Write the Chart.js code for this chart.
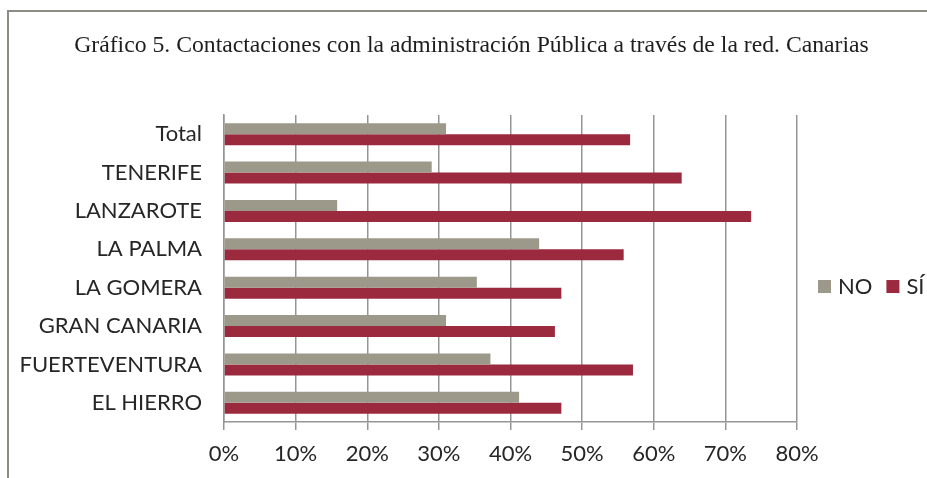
<!DOCTYPE html>
<html>
<head>
<meta charset="utf-8">
<script src="https://cdn.jsdelivr.net/npm/chart.js@4"></script>
<style>
  html, body { margin: 0; padding: 0; background: #fff; }
  #wrap { position: relative; width: 927px; height: 478px; }
  #frame { position: absolute; left: 7px; top: 10px; right: -20px; bottom: -20px;
           border-top: 2px solid #8b8d84; border-left: 2px solid #8b8d84; pointer-events: none; }
</style>
</head>
<body>
<div id="wrap">
  <canvas id="chart" width="927" height="478"></canvas>
  <div id="frame"></div>
</div>
<script>
const titleText = "Gráfico 5. Contactaciones con la administración Pública a través de la red. Canarias";
const islands = ["Total", "TENERIFE", "LANZAROTE", "LA PALMA", "LA GOMERA", "GRAN CANARIA", "FUERTEVENTURA", "EL HIERRO"];
const seriesNames = ["NO", "SÍ"];
const noValues = [31.0, 29.0, 15.8, 44.0, 35.3, 31.0, 37.2, 41.2];
const siValues = [56.7, 63.9, 73.6, 55.8, 47.1, 46.2, 57.1, 47.1];
const seriesColors = ["#9c998a", "#9b2a3f"];

const gridColor = "#959595";
const labelFont = { family: "Lato", size: 22 };

// legend drawn in one row to the right of the plot
const rowLegend = {
  id: "rowLegend",
  afterDraw(chart) {
    const ctx = chart.ctx;
    const area = chart.chartArea;
    const y = (area.top + chart.scales.x.bottom) / 2 - 10;
    let x = area.right + 21;
    ctx.save();
    ctx.font = "22px Lato";
    ctx.textBaseline = "middle";
    chart.data.datasets.forEach(ds => {
      ctx.fillStyle = ds.backgroundColor;
      ctx.fillRect(x, y - 6.5, 13, 13);
      x += 20;
      ctx.fillStyle = "#262626";
      ctx.fillText(ds.label, x, y);
      x += ctx.measureText(ds.label).width + 14;
    });
    ctx.restore();
  }
};

new Chart(document.getElementById("chart"), {
  type: "bar",
  data: {
    labels: islands,
    datasets: [
      { label: seriesNames[0], data: noValues, backgroundColor: seriesColors[0] },
      { label: seriesNames[1], data: siValues, backgroundColor: seriesColors[1] }
    ]
  },
  options: {
    indexAxis: "y",
    responsive: false,
    animation: false,
    categoryPercentage: 0.573,
    barPercentage: 1,
    layout: { padding: { top: 10, left: 16, right: 0, bottom: 0 } },
    plugins: {
      legend: { display: false },
      tooltip: { enabled: false },
      title: {
        display: true,
        text: titleText,
        color: "#1e1e1e",
        font: { family: "Liberation Serif", size: 23.7, weight: "normal" },
        padding: { top: 22, bottom: 54.6 }
      }
    },
    scales: {
      x: {
        min: 0,
        max: 80,
        afterFit(s) { s.height = 56; },
        ticks: { stepSize: 10, padding: 11, color: "#262626", font: labelFont, callback: v => v + "%" },
        grid: { color: gridColor, lineWidth: 1.5, tickLength: 8 },
        border: { color: gridColor, width: 1.5 }
      },
      y: {
        afterFit(s) { s.width = 208; },
        ticks: { padding: 22, color: "#262626", font: labelFont },
        grid: { display: false, drawTicks: false },
        border: { color: gridColor, width: 1.5 }
      },
      legendSpace: {
        type: "category",
        position: "right",
        afterFit(s) { s.width = 130; },
        ticks: { display: false },
        grid: { display: false, drawTicks: false },
        border: { display: false }
      }
    }
  },
  plugins: [rowLegend]
});
</script>
</body>
</html>
